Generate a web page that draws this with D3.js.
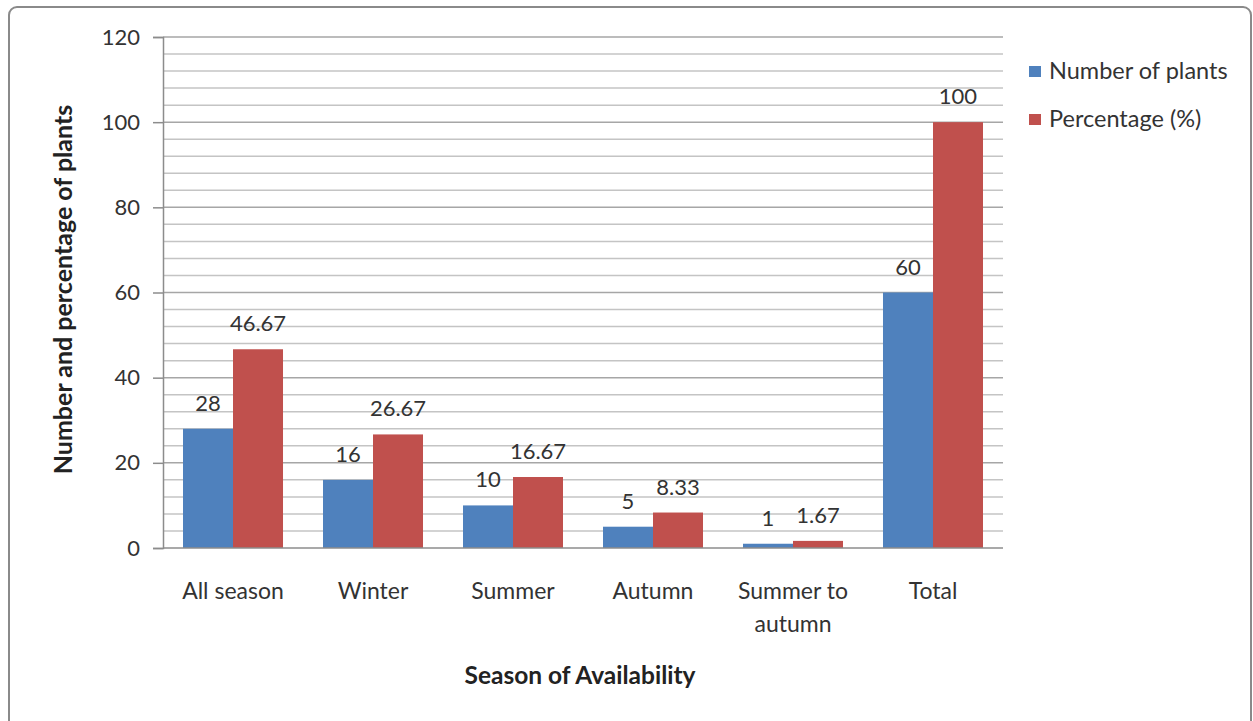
<!DOCTYPE html>
<html><head><meta charset="utf-8">
<script src="https://cdn.jsdelivr.net/npm/d3@7"></script>
<style>body{margin:0;background:#fff;} svg{display:block;font-family:Lato,"Open Sans",sans-serif;}</style>
</head><body>
<svg id="c" width="1253" height="721"></svg>
<script>
const categories = ["All season","Winter","Summer","Autumn","Summer to autumn","Total"];
const categoryLines = [["All season"],["Winter"],["Summer"],["Autumn"],["Summer to","autumn"],["Total"]];
const numberOfPlants = [28,16,10,5,1,60];
const percentage = [46.67,26.67,16.67,8.33,1.67,100];
const seriesNames = ["Number of plants","Percentage (%)"];
const yTicks = [0,20,40,60,80,100,120];
const yMinorTicks = d3.range(0,121,4);
const colors = ["#4F81BD","#C0504D"];

const svg = d3.select("#c");
const L=163,R=1003,T=37,B=548;

// outer border
svg.append("rect").attr("x",9).attr("y",7).attr("width",1242).attr("height",725).attr("rx",8)
  .attr("fill","none").attr("stroke","#8a8a8a").attr("stroke-width",2);

const x = d3.scaleBand().domain(categories).range([L,R]).paddingInner(0.2857).paddingOuter(0.1429);
const xs = d3.scaleBand().domain([0,1]).range([0,x.bandwidth()]);
const y = d3.scaleLinear().domain([0,120]).range([B,T]);

// gridlines
svg.append("g").selectAll("line").data(yMinorTicks.filter(v=>v>0)).join("line")
  .attr("x1",L).attr("x2",R).attr("y1",d=>y(d)).attr("y2",d=>y(d))
  .attr("stroke",d=>d%20===0?"#a6a6a6":"#c4c4c4").attr("stroke-width",1.5);

// y axis
const yAxis = svg.append("g").attr("transform",`translate(${L},0)`)
  .call(d3.axisLeft(y).tickValues(yTicks).tickSize(10).tickPadding(13).tickFormat(d3.format("d")));
yAxis.select(".domain").attr("stroke","#8c8c8c").attr("stroke-width",1.5);
yAxis.selectAll(".tick line").attr("stroke","#8c8c8c").attr("stroke-width",1.5);
yAxis.selectAll("text").attr("font-size",22).attr("fill","#333").attr("font-family","Lato,sans-serif");

// bars
const data = categories.map((c,i)=>({c,vals:[numberOfPlants[i],percentage[i]]}));
const g = svg.append("g");
data.forEach(d=>{
  d.vals.forEach((v,s)=>{
    g.append("rect").attr("x",x(d.c)+xs(s)).attr("width",xs.bandwidth())
      .attr("y",y(v)).attr("height",B-y(v)).attr("fill",colors[s]);
    g.append("text").attr("x",x(d.c)+xs(s)+xs.bandwidth()/2).attr("y",y(v)-18)
      .attr("text-anchor","middle").attr("font-size",22).attr("fill","#333").text(v);
  });
});

// x axis line
svg.append("line").attr("x1",L).attr("x2",R).attr("y1",B).attr("y2",B)
  .attr("stroke","#8c8c8c").attr("stroke-width",1.5);

// x tick labels
categories.forEach((c,i)=>{
  const t = svg.append("text").attr("x",x(c)+x.bandwidth()/2).attr("y",599)
    .attr("text-anchor","middle").attr("font-size",23).attr("fill","#333");
  categoryLines[i].forEach((ln,j)=>t.append("tspan").attr("x",x(c)+x.bandwidth()/2).attr("dy",j?33:0).text(ln));
});

// axis titles
svg.append("text").attr("x",(L+R)/2-3).attr("y",684).attr("text-anchor","middle")
  .attr("font-size",24.5).attr("font-weight","bold").attr("fill","#222").text("Season of Availability");
svg.append("text").attr("transform",`translate(72,${(T+B)/2-3}) rotate(-90)`).attr("text-anchor","middle")
  .attr("font-size",25).attr("font-weight","bold").attr("fill","#222").text("Number and percentage of plants");

// legend
seriesNames.forEach((n,i)=>{
  const ly = 72 + i*48;
  svg.append("rect").attr("x",1029).attr("y",ly-6).attr("width",12).attr("height",11).attr("fill",colors[i]);
  svg.append("text").attr("x",1049).attr("y",ly+7).attr("font-size",23.5).attr("fill","#333").text(n);
});
</script>
</body></html>
